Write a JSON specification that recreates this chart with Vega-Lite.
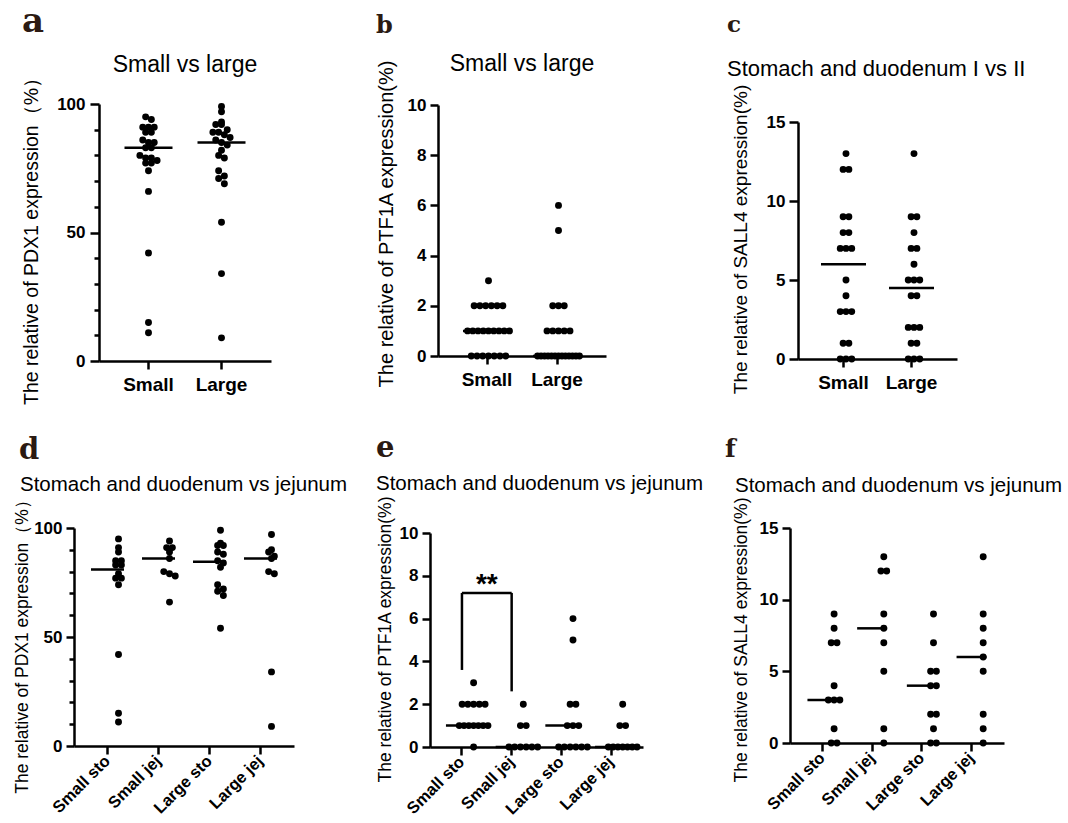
{
 "$schema": "https://vega.github.io/schema/vega-lite/v6.json",
 "background": "white",
 "padding": {"left": 12, "top": 4, "right": 2, "bottom": 2},
 "config": {
  "view": {"stroke": null},
  "font": "Liberation Sans",
  "axis": {"grid": false, "domainColor": "#000", "domainWidth": 2.5, "tickColor": "#000", "tickWidth": 2.5, "labelColor": "#000", "labelFont": "Liberation Sans", "labelFontWeight": "bold", "labelFontSize": 17, "titleFont": "Liberation Sans", "titleFontWeight": "normal", "titleColor": "#000"},
  "axisY": {"titleAlign": "center", "titleBaseline": "middle", "titleAngle": 270},
  "title": {"font": "Liberation Sans", "fontWeight": "normal", "color": "#000"},
  "circle": {"color": "#000", "opacity": 1, "size": 48},
  "tick": {"color": "#000", "opacity": 1, "thickness": 2.5},
  "rule": {"color": "#000", "strokeWidth": 2.5}
 },
 "datasets": {
  "pdx1": [
   {"size":"Small","group":"Small sto","v":95},{"size":"Small","group":"Small sto","v":91},{"size":"Small","group":"Small sto","v":89},{"size":"Small","group":"Small sto","v":85},{"size":"Small","group":"Small sto","v":85},{"size":"Small","group":"Small sto","v":83},{"size":"Small","group":"Small sto","v":83},{"size":"Small","group":"Small sto","v":79},{"size":"Small","group":"Small sto","v":77},{"size":"Small","group":"Small sto","v":77},{"size":"Small","group":"Small sto","v":74},{"size":"Small","group":"Small sto","v":42},{"size":"Small","group":"Small sto","v":15},{"size":"Small","group":"Small sto","v":11},
   {"size":"Small","group":"Small jej","v":94},{"size":"Small","group":"Small jej","v":91},{"size":"Small","group":"Small jej","v":91},{"size":"Small","group":"Small jej","v":89},{"size":"Small","group":"Small jej","v":86},{"size":"Small","group":"Small jej","v":80},{"size":"Small","group":"Small jej","v":79},{"size":"Small","group":"Small jej","v":78},{"size":"Small","group":"Small jej","v":66},
   {"size":"Large","group":"Large sto","v":99},{"size":"Large","group":"Large sto","v":93},{"size":"Large","group":"Large sto","v":92},{"size":"Large","group":"Large sto","v":92},{"size":"Large","group":"Large sto","v":89},{"size":"Large","group":"Large sto","v":88},{"size":"Large","group":"Large sto","v":85},{"size":"Large","group":"Large sto","v":84},{"size":"Large","group":"Large sto","v":82},{"size":"Large","group":"Large sto","v":74},{"size":"Large","group":"Large sto","v":72},{"size":"Large","group":"Large sto","v":71},{"size":"Large","group":"Large sto","v":69},{"size":"Large","group":"Large sto","v":54},
   {"size":"Large","group":"Large jej","v":97},{"size":"Large","group":"Large jej","v":90},{"size":"Large","group":"Large jej","v":89},{"size":"Large","group":"Large jej","v":87},{"size":"Large","group":"Large jej","v":86},{"size":"Large","group":"Large jej","v":80},{"size":"Large","group":"Large jej","v":79},{"size":"Large","group":"Large jej","v":34},{"size":"Large","group":"Large jej","v":9}
  ],
  "ptf1a": [
   {"size":"Small","group":"Small sto","v":3},{"size":"Small","group":"Small sto","v":2},{"size":"Small","group":"Small sto","v":2},{"size":"Small","group":"Small sto","v":2},{"size":"Small","group":"Small sto","v":2},{"size":"Small","group":"Small sto","v":2},{"size":"Small","group":"Small sto","v":1},{"size":"Small","group":"Small sto","v":1},{"size":"Small","group":"Small sto","v":1},{"size":"Small","group":"Small sto","v":1},{"size":"Small","group":"Small sto","v":1},{"size":"Small","group":"Small sto","v":1},{"size":"Small","group":"Small sto","v":1},{"size":"Small","group":"Small sto","v":0},
   {"size":"Small","group":"Small jej","v":2},{"size":"Small","group":"Small jej","v":1},{"size":"Small","group":"Small jej","v":1},{"size":"Small","group":"Small jej","v":0},{"size":"Small","group":"Small jej","v":0},{"size":"Small","group":"Small jej","v":0},{"size":"Small","group":"Small jej","v":0},{"size":"Small","group":"Small jej","v":0},{"size":"Small","group":"Small jej","v":0},
   {"size":"Large","group":"Large sto","v":6},{"size":"Large","group":"Large sto","v":5},{"size":"Large","group":"Large sto","v":2},{"size":"Large","group":"Large sto","v":2},{"size":"Large","group":"Large sto","v":1},{"size":"Large","group":"Large sto","v":1},{"size":"Large","group":"Large sto","v":1},{"size":"Large","group":"Large sto","v":0},{"size":"Large","group":"Large sto","v":0},{"size":"Large","group":"Large sto","v":0},{"size":"Large","group":"Large sto","v":0},{"size":"Large","group":"Large sto","v":0},{"size":"Large","group":"Large sto","v":0},
   {"size":"Large","group":"Large jej","v":2},{"size":"Large","group":"Large jej","v":1},{"size":"Large","group":"Large jej","v":1},{"size":"Large","group":"Large jej","v":0},{"size":"Large","group":"Large jej","v":0},{"size":"Large","group":"Large jej","v":0},{"size":"Large","group":"Large jej","v":0},{"size":"Large","group":"Large jej","v":0},{"size":"Large","group":"Large jej","v":0},{"size":"Large","group":"Large jej","v":0}
  ],
  "sall4": [
   {"size":"Small","group":"Small sto","v":9},{"size":"Small","group":"Small sto","v":8},{"size":"Small","group":"Small sto","v":7},{"size":"Small","group":"Small sto","v":7},{"size":"Small","group":"Small sto","v":4},{"size":"Small","group":"Small sto","v":3},{"size":"Small","group":"Small sto","v":3},{"size":"Small","group":"Small sto","v":3},{"size":"Small","group":"Small sto","v":1},{"size":"Small","group":"Small sto","v":0},{"size":"Small","group":"Small sto","v":0},
   {"size":"Small","group":"Small jej","v":13},{"size":"Small","group":"Small jej","v":12},{"size":"Small","group":"Small jej","v":12},{"size":"Small","group":"Small jej","v":9},{"size":"Small","group":"Small jej","v":8},{"size":"Small","group":"Small jej","v":7},{"size":"Small","group":"Small jej","v":5},{"size":"Small","group":"Small jej","v":1},{"size":"Small","group":"Small jej","v":0},
   {"size":"Large","group":"Large sto","v":9},{"size":"Large","group":"Large sto","v":7},{"size":"Large","group":"Large sto","v":5},{"size":"Large","group":"Large sto","v":5},{"size":"Large","group":"Large sto","v":4},{"size":"Large","group":"Large sto","v":4},{"size":"Large","group":"Large sto","v":2},{"size":"Large","group":"Large sto","v":2},{"size":"Large","group":"Large sto","v":1},{"size":"Large","group":"Large sto","v":0},{"size":"Large","group":"Large sto","v":0},
   {"size":"Large","group":"Large jej","v":13},{"size":"Large","group":"Large jej","v":9},{"size":"Large","group":"Large jej","v":8},{"size":"Large","group":"Large jej","v":7},{"size":"Large","group":"Large jej","v":6},{"size":"Large","group":"Large jej","v":5},{"size":"Large","group":"Large jej","v":2},{"size":"Large","group":"Large jej","v":1},{"size":"Large","group":"Large jej","v":0}
  ],
  "bracket": [
   {"group":"Small sto","low":3.6,"high":7.2},
   {"group":"Small jej","low":2.6,"high":7.2}
  ],
  "signif": [
   {"group":"Small sto","group2":"Small jej","y":7.2,"label":"**"}
  ]
 },
 "columns": 1,
 "align": "none",
 "spacing": 29,
 "concat": [
  {
   "spacing": 104,
   "hconcat": [
    {
     "title": {"text": "a", "anchor": "start", "font": "DejaVu Serif", "fontWeight": "bold", "fontSize": 34, "color": "#2b1a12", "offset": 15, "dx": 1},
     "vconcat": [{
      "width": 197, "height": 257,
      "title": {"text": "Small vs large", "fontSize": 23, "anchor": "middle", "frame": "group", "offset": -9, "dx": 12.5},
      "encoding": {"x": {"field": "size", "type": "nominal", "sort": ["Small","Large"], "scale": {"domain": ["Small","Large"], "range": [25,197], "paddingInner": 0, "paddingOuter": 0.178}, "axis": {"title": null, "labelAngle": 0, "labelFontSize": 19, "tickSize": 8, "labelPadding": 6}}},
      "resolve": {"axis": {"y": "independent"}},
      "layer": [
       {"data": {"name": "pdx1"},
        "transform": [
         {"calculate": "floor(datum.v/3)", "as": "row"},
         {"window": [{"op": "row_number", "as": "r"}, {"op": "count", "as": "n"}], "groupby": ["size","row"], "sort": [{"field": "v", "order": "descending"}], "frame": [null,null]},
         {"calculate": "datum.r-(datum.n+1)/2", "as": "slot"}
        ],
        "mark": {"type": "circle"},
        "encoding": {
         "xOffset": {"field": "slot", "type": "quantitative", "scale": {"domain": [-3.65,3.65], "range": [0,73]}},
         "y": {"field": "v", "type": "quantitative", "scale": {"domain": [0,100], "nice": false}, "axis": {"orient": "left", "offset": -25, "title": "The relative of PDX1 expression（%）", "titleFontSize": 19.5, "titleX": -68, "titleY": 132, "values": [0,50,100], "tickSize": 9, "labelPadding": 5}}
        }},
       {"data": {"name": "pdx1"},
        "transform": [{"aggregate": [{"op": "median", "field": "v", "as": "v"}], "groupby": ["size"]}],
        "mark": {"type": "tick", "size": 48},
        "encoding": {"y": {"field": "v", "type": "quantitative", "axis": {"orient": "left", "offset": -25, "title": null, "labels": false, "domain": false, "values": [10,20,30,40,60,70,80,90], "tickSize": 5}}}}
      ]
     }]
    },
    {
     "spacing": 120,
     "hconcat": [
      {
       "title": {"text": "b", "anchor": "start", "font": "DejaVu Serif", "fontWeight": "bold", "fontSize": 24, "color": "#2b1a12", "offset": 15},
       "vconcat": [{
        "width": 168, "height": 252,
        "title": {"text": "Small vs large", "fontSize": 23, "anchor": "middle", "frame": "group", "offset": -16},
        "encoding": {"x": {"field": "size", "type": "nominal", "sort": ["Small","Large"], "scale": {"domain": ["Small","Large"], "paddingInner": 0, "paddingOuter": 0.2}, "axis": {"title": null, "labelAngle": 0, "labelFontSize": 19, "tickSize": 8, "labelPadding": 6}}},
        "layer": [
         {"data": {"name": "ptf1a"},
          "transform": [
           {"window": [{"op": "row_number", "as": "r"}, {"op": "count", "as": "n"}], "groupby": ["size","v"], "frame": [null,null]},
           {"calculate": "(datum.r-(datum.n+1)/2)*min(1,7.3/max(datum.n-1,1))", "as": "slot"}
          ],
          "mark": {"type": "circle"},
          "encoding": {
           "xOffset": {"field": "slot", "type": "quantitative", "scale": {"domain": [-6.36,6.36], "range": [0,70]}},
           "y": {"field": "v", "type": "quantitative", "scale": {"domain": [0,10], "nice": false, "range": [252,1]}, "axis": {"title": "The relative of PTF1A expression(%)", "titleFontSize": 20, "titleX": -52, "titleY": 119.5, "values": [0,2,4,6,8,10], "tickSize": 8, "labelPadding": 4}}
          }},
         {"data": {"name": "ptf1a"},
          "transform": [{"aggregate": [{"op": "median", "field": "v", "as": "v"}], "groupby": ["size"]}],
          "mark": {"type": "tick", "size": 48},
          "encoding": {"y": {"field": "v", "type": "quantitative"}}}
        ]
       }]
      },
      {
       "title": {"text": "c", "anchor": "start", "font": "DejaVu Serif", "fontWeight": "bold", "fontSize": 23, "color": "#2b1a12", "offset": 21},
       "vconcat": [{
        "width": 159, "height": 255,
        "title": {"text": "Stomach and duodenum I vs II", "fontSize": 22, "anchor": "start", "frame": "bounds", "offset": 3, "dx": -4},
        "encoding": {"x": {"field": "size", "type": "nominal", "sort": ["Small","Large"], "scale": {"domain": ["Small","Large"], "paddingInner": 0, "paddingOuter": 0.169}, "axis": {"title": null, "labelAngle": 0, "labelFontSize": 19, "tickSize": 8, "labelPadding": 6}}},
        "layer": [
         {"data": {"name": "sall4"},
          "transform": [
           {"window": [{"op": "row_number", "as": "r"}, {"op": "count", "as": "n"}], "groupby": ["size","v"], "frame": [null,null]},
           {"calculate": "datum.r-(datum.n+1)/2", "as": "slot"}
          ],
          "mark": {"type": "circle"},
          "encoding": {
           "xOffset": {"field": "slot", "type": "quantitative", "scale": {"domain": [-4.25,4.25], "range": [0,68]}},
           "y": {"field": "v", "type": "quantitative", "scale": {"domain": [0,15], "nice": false, "range": [255,18]}, "axis": {"title": "The relative of SALL4 expression(%)", "titleFontSize": 19, "titleX": -58, "titleY": 135, "values": [0,5,10,15], "tickSize": 9, "labelPadding": 4}}
          }},
         {"data": {"name": "sall4"},
          "transform": [{"aggregate": [{"op": "median", "field": "v", "as": "v"}], "groupby": ["size"]}],
          "mark": {"type": "tick", "size": 45},
          "encoding": {"y": {"field": "v", "type": "quantitative"}}}
        ]
       }]
      }
     ]
    }
   ]
  },
  {
   "spacing": 27,
   "hconcat": [
    {
     "title": {"text": "d", "anchor": "start", "font": "DejaVu Serif", "fontWeight": "bold", "fontSize": 29, "color": "#2b1a12", "offset": 10, "dx": 6},
     "vconcat": [{
      "width": 220, "height": 218,
      "title": {"text": "Stomach and duodenum vs jejunum", "fontSize": 20.5, "anchor": "start", "frame": "bounds", "offset": -5, "dx": 7},
      "encoding": {"x": {"field": "group", "type": "nominal", "sort": ["Small sto","Small jej","Large sto","Large jej"], "scale": {"domain": ["Small sto","Small jej","Large sto","Large jej"], "paddingInner": 0, "paddingOuter": 0.157}, "axis": {"title": null, "labelAngle": -45, "labelAlign": "right", "labelBaseline": "middle", "labelFontSize": 16.5, "tickSize": 8, "labelPadding": 4}}},
      "resolve": {"axis": {"y": "independent"}},
      "layer": [
       {"data": {"name": "pdx1"},
        "transform": [
         {"calculate": "floor(datum.v/3)", "as": "row"},
         {"window": [{"op": "row_number", "as": "r"}, {"op": "count", "as": "n"}], "groupby": ["group","row"], "sort": [{"field": "v", "order": "descending"}], "frame": [null,null]},
         {"calculate": "datum.r-(datum.n+1)/2", "as": "slot"}
        ],
        "mark": {"type": "circle"},
        "encoding": {
         "xOffset": {"field": "slot", "type": "quantitative", "scale": {"domain": [-3.07,3.07], "range": [0,51]}},
         "y": {"field": "v", "type": "quantitative", "scale": {"domain": [0,100], "nice": false}, "axis": {"orient": "left", "title": "The relative of PDX1 expression（%）", "titleFontSize": 17.5, "titleX": -52, "titleY": 114, "values": [0,50,100], "tickSize": 8, "labelPadding": 4}}
        }},
       {"data": {"name": "pdx1"},
        "transform": [{"aggregate": [{"op": "median", "field": "v", "as": "v"}], "groupby": ["group"]}],
        "mark": {"type": "tick", "size": 33},
        "encoding": {"y": {"field": "v", "type": "quantitative", "axis": {"orient": "left", "title": null, "labels": false, "domain": false, "values": [10,20,30,40,60,70,80,90], "tickSize": 5}}}}
      ]
     }]
    },
    {
     "spacing": 20,
     "hconcat": [
      {
       "title": {"text": "e", "anchor": "start", "font": "DejaVu Serif", "fontWeight": "bold", "fontSize": 29, "color": "#2b1a12", "offset": 11},
       "vconcat": [{
        "width": 213, "height": 219,
        "title": {"text": "Stomach and duodenum vs jejunum", "fontSize": 20.5, "anchor": "start", "frame": "bounds", "offset": 1},
        "encoding": {"x": {"field": "group", "type": "nominal", "sort": ["Small sto","Small jej","Large sto","Large jej"], "scale": {"domain": ["Small sto","Small jej","Large sto","Large jej"], "paddingInner": 0, "paddingOuter": 0.143}, "axis": {"title": null, "labelAngle": -45, "labelAlign": "right", "labelBaseline": "middle", "labelFontSize": 16.5, "tickSize": 8, "labelPadding": 4}}},
        "layer": [
         {"data": {"name": "ptf1a"},
          "transform": [
           {"window": [{"op": "row_number", "as": "r"}, {"op": "count", "as": "n"}], "groupby": ["group","v"], "frame": [null,null]},
           {"calculate": "(datum.r-(datum.n+1)/2)*min(1,5/max(datum.n-1,1))", "as": "slot"}
          ],
          "mark": {"type": "circle"},
          "encoding": {
           "xOffset": {"field": "slot", "type": "quantitative", "scale": {"domain": [-4.97,4.97], "range": [0,49.7]}},
           "y": {"field": "v", "type": "quantitative", "scale": {"domain": [0,10], "nice": false, "range": [219,5]}, "axis": {"title": "The relative of PTF1A expression(%)", "titleFontSize": 17.5, "titleX": -45, "titleY": 111, "values": [0,2,4,6,8,10], "tickSize": 8, "labelPadding": 4}}
          }},
         {"data": {"name": "ptf1a"},
          "transform": [{"aggregate": [{"op": "median", "field": "v", "as": "v"}], "groupby": ["group"]}],
          "mark": {"type": "tick", "size": 32},
          "encoding": {"y": {"field": "v", "type": "quantitative"}}},
         {"data": {"name": "bracket"},
          "mark": {"type": "rule"},
          "encoding": {"x": {"field": "group", "type": "nominal", "bandPosition": 0.5}, "y": {"field": "low", "type": "quantitative"}, "y2": {"field": "high"}}},
         {"data": {"name": "signif"},
          "mark": {"type": "rule"},
          "encoding": {"x": {"field": "group", "type": "nominal", "bandPosition": 0.5}, "x2": {"field": "group2", "bandPosition": 0.5}, "y": {"field": "y", "type": "quantitative"}}},
         {"data": {"name": "signif"},
          "mark": {"type": "text", "fontSize": 28, "fontWeight": "bold", "baseline": "alphabetic", "align": "center", "color": "#000"},
          "encoding": {"x": {"field": "group", "type": "nominal", "bandPosition": 1}, "y": {"field": "y", "type": "quantitative"}, "text": {"field": "label"}}}
        ]
       }]
      },
      {
       "title": {"text": "f", "anchor": "start", "font": "DejaVu Serif", "fontWeight": "bold", "fontSize": 25, "color": "#2b1a12", "offset": 14, "dx": -7},
       "vconcat": [{
        "width": 214, "height": 215,
        "title": {"text": "Stomach and duodenum vs jejunum", "fontSize": 20.5, "anchor": "start", "frame": "bounds", "offset": 1, "dx": 3},
        "encoding": {"x": {"field": "group", "type": "nominal", "sort": ["Small sto","Small jej","Large sto","Large jej"], "scale": {"domain": ["Small sto","Small jej","Large sto","Large jej"], "paddingInner": 0, "paddingOuter": 0.153}, "axis": {"title": null, "labelAngle": -45, "labelAlign": "right", "labelBaseline": "middle", "labelFontSize": 16.5, "tickSize": 8, "labelPadding": 4}}},
        "layer": [
         {"data": {"name": "sall4"},
          "transform": [
           {"window": [{"op": "row_number", "as": "r"}, {"op": "count", "as": "n"}], "groupby": ["group","v"], "frame": [null,null]},
           {"calculate": "datum.r-(datum.n+1)/2", "as": "slot"}
          ],
          "mark": {"type": "circle"},
          "encoding": {
           "xOffset": {"field": "slot", "type": "quantitative", "scale": {"domain": [-1.957,1.957], "range": [0,49.7]}},
           "y": {"field": "v", "type": "quantitative", "scale": {"domain": [0,15], "nice": false}, "axis": {"title": "The relative of SALL4 expression(%)", "titleFontSize": 17.5, "titleX": -49, "titleY": 111.5, "values": [0,5,10,15], "tickSize": 8, "labelPadding": 4}}
          }},
         {"data": {"name": "sall4"},
          "transform": [{"aggregate": [{"op": "median", "field": "v", "as": "v"}], "groupby": ["group"]}],
          "mark": {"type": "tick", "size": 30},
          "encoding": {"y": {"field": "v", "type": "quantitative"}}}
        ]
       }]
      }
     ]
    }
   ]
  }
 ]
}
